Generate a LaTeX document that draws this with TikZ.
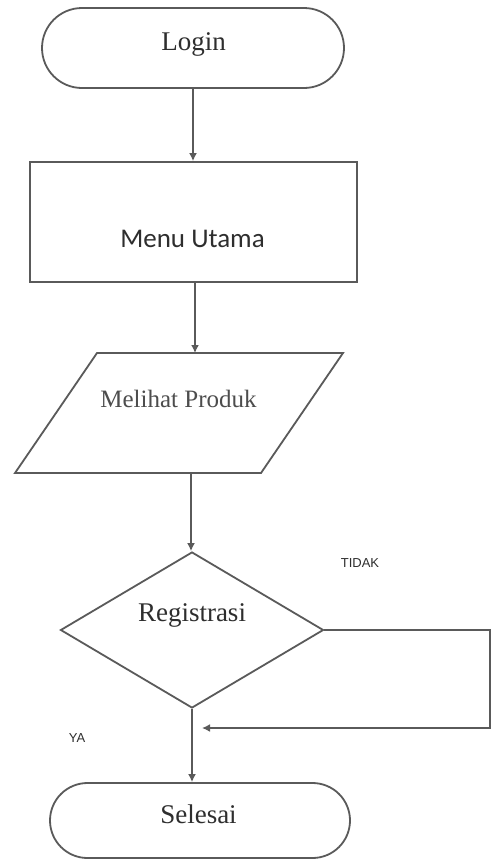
\documentclass[tikz,border=0pt]{standalone}
\usepackage{fontspec}
\setmainfont{Liberation Serif}
\newfontfamily\calibrifont{Carlito}
\newfontfamily\arialfont{Liberation Sans}
\usetikzlibrary{shapes.geometric,shapes.misc,arrows.meta}
\definecolor{linegray}{HTML}{5A5A5A}
\definecolor{textgray}{HTML}{2E2E2E}
\begin{document}
\begin{tikzpicture}[x=1pt,y=-1pt,
  shapeline/.style={draw=linegray,line width=1.8pt,inner sep=0pt},
  terminal/.style={shapeline,rounded rectangle},
  procbox/.style={shapeline,rectangle},
  decision/.style={shapeline,diamond},
  conn/.style={draw=linegray,line width=1.6pt,-{Latex[length=8pt,width=8pt]}},
  seriflabel/.style={anchor=base,inner sep=0pt,text=textgray,font=\fontsize{27}{30}\selectfont},
  smalllabel/.style={anchor=base,inner sep=0pt,text=textgray,font=\arialfont\fontsize{13}{15}\selectfont}
]
\useasboundingbox (0,0) rectangle (491,860);
\fill[white] (0,0) rectangle (491,860);

% shapes
\node[terminal,minimum width=302pt,minimum height=80pt] (login) at (193,48) {};
\node[procbox,minimum width=327pt,minimum height=120pt] (menu) at (193.5,222) {};
\draw[shapeline] (97,353) -- (343,353) -- (261,473) -- (15,473) -- cycle;
\coordinate (ptop) at (195,353);
\coordinate (pbot) at (191,473);
\node[decision,minimum width=263pt,minimum height=156pt] (reg) at (192,630) {};
\node[terminal,minimum width=300pt,minimum height=75pt] (sel) at (200,820.5) {};

% texts
\node[seriflabel] (logintext) at (193.5,50) {Login};
\node[seriflabel,font=\calibrifont\fontsize{27}{30}\selectfont] (menutext) at (192.5,247) {Menu Utama};
\node[seriflabel,font=\fontsize{25}{28}\selectfont,text=textgray!85] (prodtext) at (178.5,407) {Melihat Produk};
\node[seriflabel] (regtext) at (192,621) {Registrasi};
\node[seriflabel] (seltext) at (198.5,823) {Selesai};
\node[smalllabel] (tidak) at (360,567) {TIDAK};
\node[smalllabel] (ya) at (77,742) {YA};

% connectors
\draw[conn] (login.south) -- (login.south |- menu.north);
\draw[conn] (menu.south -| ptop) -- (ptop);
\draw[conn] (pbot) -- (pbot |- reg.north);
\draw[conn] (reg.south) -- (reg.south |- sel.north);
\coordinate (c1) at (490,630);
\coordinate (c2) at (490,728);
\coordinate (loopend) at (202,728);
\draw[conn] (reg.east) -- (c1) -- (c2) -- (loopend);
\end{tikzpicture}
\end{document}
